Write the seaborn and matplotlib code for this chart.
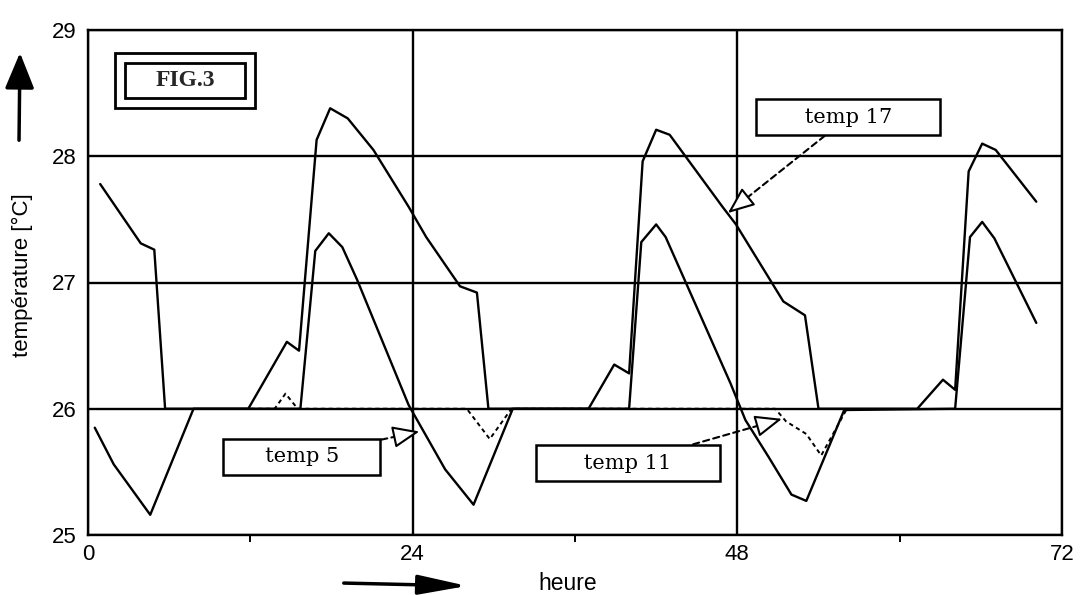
import numpy as np
import pandas as pd
import matplotlib
matplotlib.use("Agg")
import matplotlib.pyplot as plt
import seaborn as sns
from matplotlib.patches import Rectangle, FancyArrowPatch

# ---------------- data ----------------
temp17_h = [0.9, 3.9, 4.9, 5.7, 11.85, 14.7, 15.6, 16.9, 17.9, 19.2, 21.1, 23.7, 25.0,
            27.5, 28.75, 29.6, 37.0, 38.9, 40.0, 41.0, 42.0, 43.0, 46.9, 47.9, 51.4,
            53.0, 54.0, 61.3, 63.2, 64.1, 65.1, 66.1, 67.1, 70.1]
temp17_t = [27.78, 27.31, 27.26, 26.0, 26.0, 26.53, 26.46, 28.13, 28.38, 28.30, 28.05,
            27.60, 27.36, 26.97, 26.92, 26.0, 26.0, 26.35, 26.28, 27.96, 28.21, 28.17,
            27.60, 27.46, 26.85, 26.74, 26.0, 26.0, 26.23, 26.15, 27.88, 28.10, 28.05, 27.64]

temp11_h = [0.5, 1.9, 4.6, 7.8, 15.7, 16.8, 17.8, 18.8, 19.9, 23.7, 26.4, 28.5, 31.4,
            40.0, 40.9, 42.0, 42.7, 47.5, 48.6, 50.3, 52.0, 53.1, 55.9, 64.1, 65.2,
            66.1, 67.0, 70.1]
temp11_t = [25.85, 25.56, 25.16, 26.0, 26.0, 27.25, 27.39, 27.28, 27.02, 26.03, 25.52,
            25.24, 26.0, 26.0, 27.32, 27.46, 27.36, 26.20, 25.91, 25.62, 25.32, 25.27,
            25.99, 26.0, 27.36, 27.48, 27.35, 26.68]

temp5_h = [12.0, 13.8, 14.6, 15.5, 28.0, 29.7, 31.3, 50.8, 51.6, 53.1, 54.2, 56.1]
temp5_t = [26.0, 26.0, 26.12, 26.0, 26.0, 25.76, 26.0, 26.0, 25.90, 25.80, 25.63, 26.0]

x_ticks = [0, 24, 48, 72]
x_minor = [12, 36, 60]
y_ticks = [25, 26, 27, 28, 29]

series_names = ["temp 17", "temp 11", "temp 5"]
# label boxes: (centre x, centre y) and arrow tip (x, y) in data units
label_pos = {"temp 17": (56.2, 28.31), "temp 11": (39.9, 25.57), "temp 5": (15.8, 25.62)}
label_tip = {"temp 17": (47.3, 27.55), "temp 11": (51.3, 25.92), "temp 5": (24.5, 25.82)}
label_pad = {"temp 17": 6, "temp 11": 6, "temp 5": 5}

df = pd.concat([
    pd.DataFrame({"heure": temp17_h, "temp": temp17_t, "serie": "temp 17"}),
    pd.DataFrame({"heure": temp11_h, "temp": temp11_t, "serie": "temp 11"}),
    pd.DataFrame({"heure": temp5_h, "temp": temp5_t, "serie": "temp 5"}),
])

# ---------------- style ----------------
sns.set_theme(style="white")
plt.rcParams["font.family"] = ["Liberation Sans", "DejaVu Sans"]

fig = plt.figure(figsize=(10.8, 5.95), dpi=100)
ax = fig.add_axes([88 / 1080, 60 / 595, 974 / 1080, 505 / 595])
ax.set_facecolor("white")

LW = 1.7
styles = {"temp 17": "-", "temp 11": "-", "temp 5": (0, (2.2, 1.8))}
for name in series_names:
    sub = df[df["serie"] == name]
    sns.lineplot(data=sub, x="heure", y="temp", ax=ax, color="black",
                 linewidth=LW if name != "temp 5" else 1.4,
                 linestyle=styles[name], estimator=None, sort=False, zorder=3)

ax.set_xlim(0, 72)
ax.set_ylim(25, 29)
ax.set_xticks(x_ticks)
ax.set_xticks(x_minor, minor=True)
ax.set_yticks(y_ticks)
ax.grid(True, which="major", color="black", linewidth=LW, zorder=1)
ax.set_xlabel("")
ax.set_ylabel("")
for sp in ax.spines.values():
    sp.set_visible(True)
    sp.set_color("black")
    sp.set_linewidth(LW)
ax.tick_params(axis="both", which="major", direction="inout", length=11, width=1.4,
               colors="black", labelsize=16, pad=3)
ax.tick_params(axis="x", which="minor", direction="out", length=5, width=1.4,
               colors="black", bottom=True)
ax.tick_params(axis="x", which="major", pad=1)

# ---------------- FIG.3 double box ----------------
ax.add_patch(Rectangle((0.0275, 0.846), 0.1435, 0.108, transform=ax.transAxes,
                       fill=True, fc="white", ec="black", lw=2.0, zorder=4))
ax.add_patch(Rectangle((0.038, 0.865), 0.123, 0.070, transform=ax.transAxes,
                       fill=False, ec="black", lw=2.0, zorder=5))
ax.text(0.0995, 0.900, "FIG.3", transform=ax.transAxes, ha="center", va="center",
        fontsize=17, fontweight="bold", family=["Liberation Serif", "DejaVu Serif"],
        zorder=6)

# ---------------- labelled leaders ----------------
for name in series_names:
    cx, cy = label_pos[name]
    tx, ty = label_tip[name]
    txt = " " * label_pad[name] + name + " " * label_pad[name]
    ax.annotate(txt, xy=(tx, ty), xytext=(cx, cy), textcoords="data",
                ha="center", va="center", fontsize=15,
                family=["DejaVu Serif"], color="black", zorder=7,
                bbox=dict(boxstyle="square,pad=0.4", fc="white", ec="black", lw=1.8),
                arrowprops=dict(arrowstyle="-", linestyle=(0, (3, 2)), lw=1.5,
                                color="black", shrinkA=0, shrinkB=16))
    p_tip = ax.transData.transform((tx, ty))
    p_box = ax.transData.transform((cx, cy))
    u = (p_box - p_tip) / np.hypot(*(p_box - p_tip))
    off = u * 24 * 72 / fig.dpi
    ax.annotate("", xy=(tx, ty), xytext=(off[0], off[1]), textcoords="offset points",
                zorder=8,
                arrowprops=dict(arrowstyle="-|>,head_length=1.1,head_width=0.45",
                                mutation_scale=15, lw=1.5, fc="white", ec="black",
                                shrinkA=0, shrinkB=0))

# ---------------- axis titles with arrows ----------------
fig.text(22 / 1080, 1 - 275 / 595, "température [°C]", rotation=90, ha="center",
         va="center", fontsize=16, color="black")
fig.text(568 / 1080, 1 - 584 / 595, "heure", ha="center", va="center",
         fontsize=16.5, color="black")
fig.add_artist(FancyArrowPatch((19 / 1080, 1 - 143 / 595), (20 / 1080, 1 - 50 / 595),
                               transform=fig.transFigure,
                               arrowstyle="-|>,head_length=1.1,head_width=0.45",
                               mutation_scale=20, lw=2.5, color="black"))
fig.add_artist(FancyArrowPatch((341 / 1080, 1 - 583 / 595), (470 / 1080, 1 - 586 / 595),
                               transform=fig.transFigure,
                               arrowstyle="-|>,head_length=1.5,head_width=0.3",
                               mutation_scale=20, lw=2.5, color="black"))

fig.savefig("out.png", dpi=100, facecolor="white")
